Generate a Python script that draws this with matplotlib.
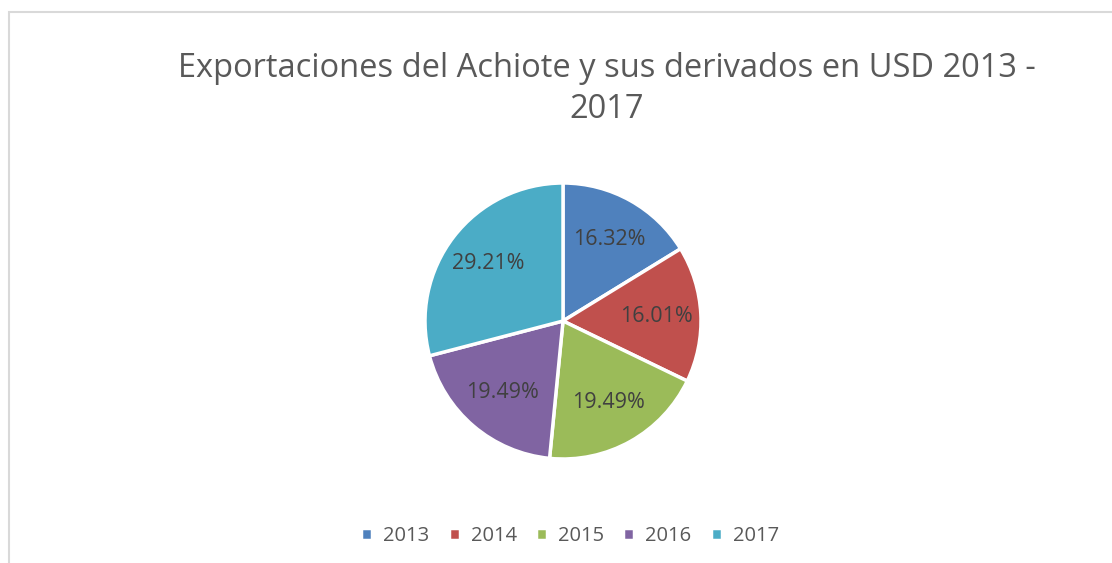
import matplotlib.pyplot as plt
from matplotlib.patches import Rectangle

years = ['2013', '2014', '2015', '2016', '2017']
shares = [16.32, 16.01, 19.49, 19.49, 29.21]
colors = ['#4f81bd', '#c0504d', '#9bbb59', '#8064a2', '#4bacc6']
title = 'Exportaciones del Achiote y sus derivados en USD 2013 -\n2017'

plt.rcParams['font.family'] = ['Open Sans', 'DejaVu Sans']

W, H = 1112, 563
fig = plt.figure(figsize=(W / 100, H / 100), dpi=100)

# chart area border (cropped at right and bottom)
fig.patches.append(Rectangle((9 / W, -0.1), 1.2, 1 - 12 / H + 0.1,
                             transform=fig.transFigure, fill=False,
                             edgecolor='#d9d9d9', linewidth=1.5))

# pie axes: center (563, 321), radius 138 px
r = 138
cx, cy = 563, 321
ax = fig.add_axes([(cx - r) / W, (H - cy - r) / H, 2 * r / W, 2 * r / H])
wedges, texts = ax.pie(shares, colors=colors, startangle=90, counterclock=False,
                       labels=['%.2f%%' % v for v in shares], labeldistance=0.68,
                       wedgeprops=dict(edgecolor='white', linewidth=2.5),
                       textprops=dict(fontsize=15.5, color='#404040'))
for t in texts:
    t.set_ha('center')
    t.set_va('center')
ax.set_xlim(-1, 1)
ax.set_ylim(-1, 1)
ax.set_aspect('equal')

fig.text(607 / W, 1 - 89 / H, title, ha='center', va='center', fontsize=23.5,
         color='#595959', linespacing=1.3)

fig.legend(wedges, years, loc='center', bbox_to_anchor=(570 / W, 1 - 536 / H),
           ncol=5, frameon=False, fontsize=14.5, handlelength=0.55, handleheight=0.55,
           handletextpad=0.55, columnspacing=0.95, labelcolor='#595959')

fig.savefig('out.png', dpi=100)
